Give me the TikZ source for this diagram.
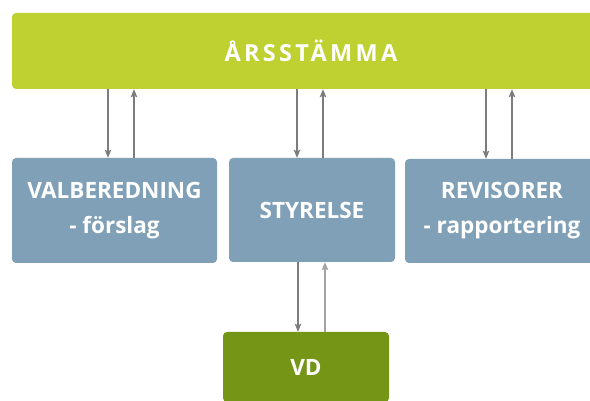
\documentclass[tikz,border=0pt]{standalone}
\usepackage{fontspec}
\setmainfont{Open Sans}
\usetikzlibrary{arrows.meta}
\definecolor{stammagreen}{HTML}{BFD031}
\definecolor{boxblue}{HTML}{7FA0B6}
\definecolor{vdgreen}{HTML}{749516}
\definecolor{arrowgray}{HTML}{7C7C7C}
\tikzstyle{box} = [rectangle, rounded corners=4pt, fill=boxblue, text=white, font=\bfseries\fontsize{22.5}{35}\selectfont, align=center, inner sep=0pt]
\tikzstyle{arrow} = [draw=arrowgray, line width=1.1pt, -{Stealth[length=8pt,width=6.5pt,inset=1.5pt]}]

\begin{document}
\begin{tikzpicture}[x=1pt, y=-1pt]
        \useasboundingbox (0,0) rectangle (590,401);
        \clip (0,0) rectangle (590,401);

        \node(stamma) [box, fill=stammagreen, minimum width=598pt, minimum height=76pt, font=\bfseries\fontsize{23.5}{25}\selectfont\addfontfeatures{LetterSpace=14}] at (311,51) {ÅRSSTÄMMA};
        \node(valberedning) [box, minimum width=205pt, minimum height=105pt] at (114.5,210.5) {VALBEREDNING\\- förslag};
        \node(styrelse) [box, minimum width=166pt, minimum height=104pt] at (312,210) {STYRELSE};
        \node(revisorer) [box, minimum width=194pt, minimum height=104pt] at (502,211) {REVISORER\\- rapportering};
        \node(vd) [box, fill=vdgreen, minimum width=166pt, minimum height=70pt] at (306,367) {VD};

        \draw[arrow] ([xshift=-6.5pt]valberedning.north |- stamma.south) -- ([xshift=-6.5pt]valberedning.north);
        \draw[arrow] ([xshift=19.5pt]valberedning.north) -- ([xshift=19.5pt]valberedning.north |- stamma.south);

        \draw[arrow] ([xshift=-15pt]styrelse.north |- stamma.south) -- ([xshift=-15pt]styrelse.north);
        \draw[arrow] ([xshift=11pt]styrelse.north) -- ([xshift=11pt]styrelse.north |- stamma.south);

        \draw[arrow] ([xshift=-16pt]revisorer.north |- stamma.south) -- ([xshift=-16pt]revisorer.north);
        \draw[arrow] ([xshift=10pt]revisorer.north) -- ([xshift=10pt]revisorer.north |- stamma.south);

        \draw[arrow] ([xshift=-8pt]vd.north |- styrelse.south) -- ([xshift=-8pt]vd.north);
        \draw[arrow, draw=arrowgray!70] ([xshift=19pt]vd.north) -- ([xshift=19pt]vd.north |- styrelse.south);
\end{tikzpicture}
\end{document}
